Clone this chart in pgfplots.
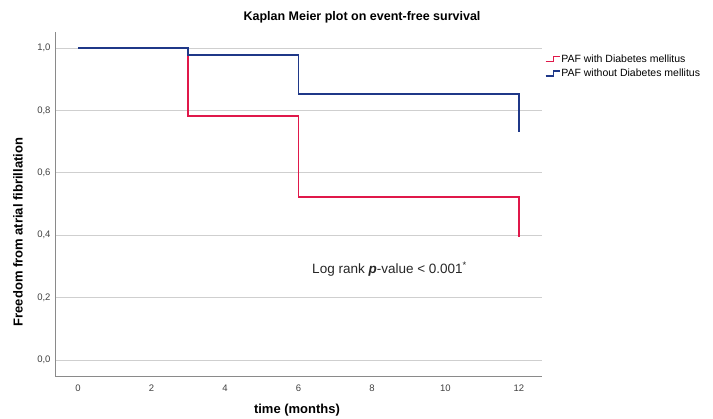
\documentclass[border=0pt]{standalone}
\usepackage{pgfplots}
\pgfplotsset{compat=1.18}
\usepackage{fontspec}
\setmainfont{Liberation Sans}
\definecolor{kmred}{HTML}{E0184A}
\definecolor{kmblue}{HTML}{1F3888}
\definecolor{gridgray}{HTML}{CFCFCF}
\definecolor{axgray}{HTML}{8A8A8A}
\begin{document}
\begin{tikzpicture}
\useasboundingbox (0pt,0pt) rectangle (713pt,419pt);
\begin{axis}[
  at={(55pt,43pt)}, anchor=south west,
  scale only axis, width=487pt, height=344pt,
  xmin=-0.63, xmax=12.63, ymin=-0.051, ymax=1.051,
  axis lines=left, axis line style={axgray, line width=0.8pt, -},
  xtick={0,2,4,6,8,10,12}, ytick={0,0.2,0.4,0.6,0.8,1.0},
  major tick length=0pt,
  ymajorgrids, grid style={gridgray, line width=0.8pt},
  /pgf/number format/assume math mode=true,
  yticklabel style={/pgf/number format/.cd, fixed, fixed zerofill, precision=1, use comma, /tikz/.cd, font=\fontsize{9.5}{11}\selectfont, text=black!75, xshift=-1pt},
  xticklabel style={font=\fontsize{9.5}{11}\selectfont, text=black!75, yshift=-5pt},
  clip=false,
  legend style={at={(1.004,0.94)}, anchor=north west, draw=none, fill=none, font=\fontsize{10.5}{12}\selectfont, row sep=3pt, inner sep=1pt, nodes={inner sep=1pt}},
  legend cell align=left,
  legend image code/.code={\draw[#1, line width=1.2pt] (0pt,-2.5pt) -- (8pt,-2.5pt) -- (8pt,2.5pt) -- (14pt,2.5pt);},
]
\addplot[kmred, line width=1.7pt] coordinates {(0,1.0) (3,1.0) (3,0.782) (6,0.782) (6,0.522) (12,0.522) (12,0.394)};
\addlegendentry{PAF with Diabetes mellitus}
\addplot[kmblue, line width=1.7pt] coordinates {(0,1.0) (3,1.0) (3,0.977) (6,0.977) (6,0.853) (12,0.853) (12,0.731)};
\addlegendentry{PAF without Diabetes mellitus}
\node[font=\fontsize{13.5}{15}\selectfont, text=black!85] at (axis cs:8.48,0.292) {Log rank \textbf{\textit{p}}-value < 0.001\textsuperscript{*}};
\end{axis}
\node[font=\bfseries\fontsize{12.5}{15}\selectfont] at (362pt,402pt) {Kaplan Meier plot on event-free survival};
\node[font=\bfseries\fontsize{13}{15}\selectfont] at (297pt,9pt) {time (months)};
\node[font=\bfseries\fontsize{13}{15}\selectfont, rotate=90] at (18pt,187pt) {Freedom from atrial fibrillation};
\end{tikzpicture}
\end{document}
